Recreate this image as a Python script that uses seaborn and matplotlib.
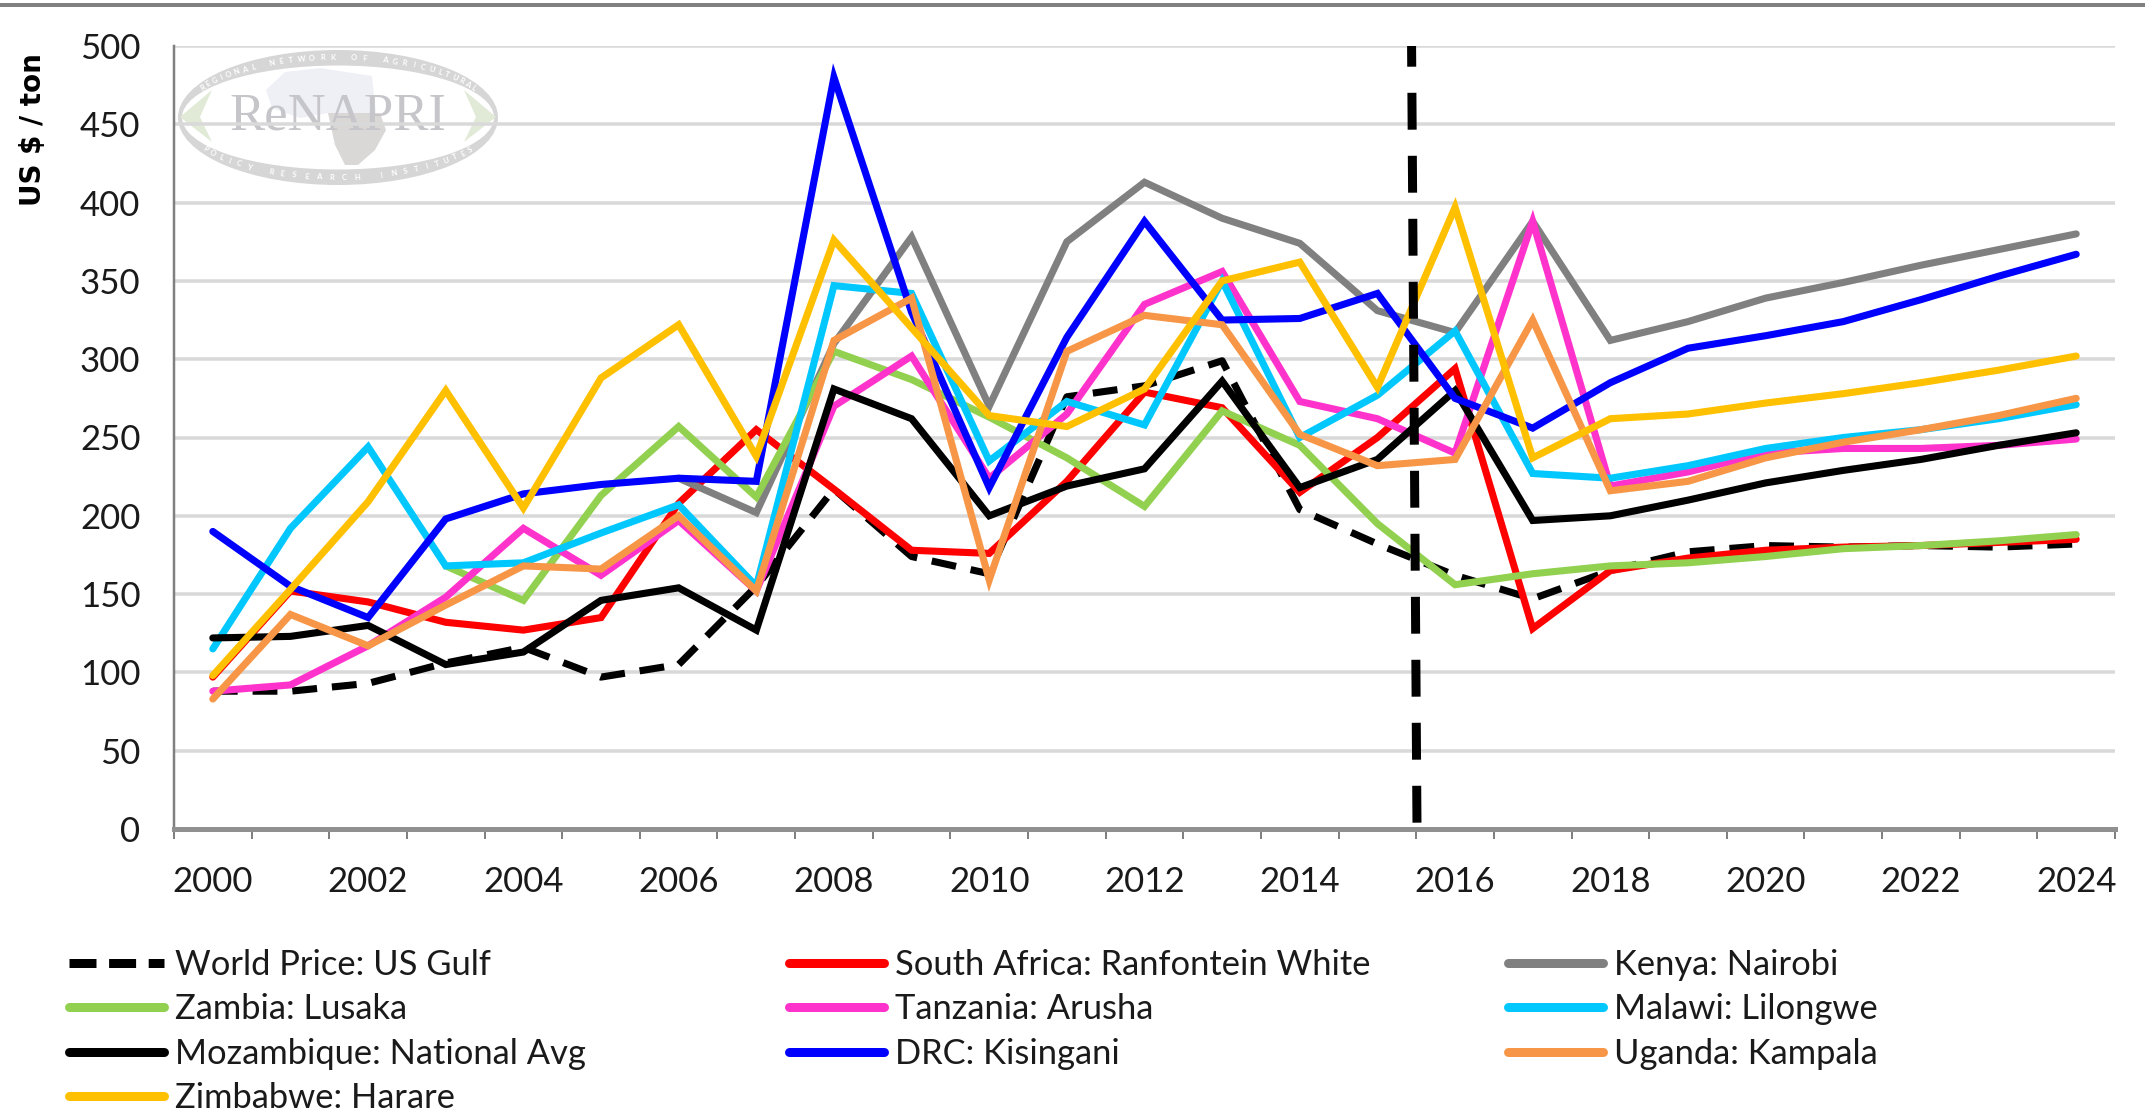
import numpy as np
import pandas as pd
import seaborn as sns
import matplotlib
matplotlib.use("Agg")
import matplotlib.pyplot as plt
from matplotlib.lines import Line2D
from matplotlib.patches import Ellipse, Polygon

years = list(range(2000, 2025))
nan = np.nan
world = [88, 88, 93, 106, 116, 97, 105, 155, 217, 174, 163, 276, 283, 299, 204, 182, 162, 147, 165, 177, 181, 180, 181, 180, 182]
south_africa = [97, 152, 145, 132, 127, 135, 208, 255, 217, 178, 176, 222, 279, 269, 215, 250, 294, 128, 165, 173, 178, 180, 181, 183, 185]
kenya = [nan, nan, nan, nan, nan, nan, 224, 202, 310, 378, 270, 375, 413, 390, 374, 331, 317, 388, 312, 324, 339, 349, 360, 370, 380]
zambia = [nan, nan, nan, 168, 146, 213, 257, 212, 305, 287, 263, 237, 206, 267, 245, 195, 156, 163, 168, 170, 174, 179, 181, 184, 188]
tanzania = [88, 92, 117, 148, 192, 162, 197, 152, 270, 302, 224, 265, 335, 356, 273, 262, 240, 388, 219, 228, 240, 243, 243, 245, 249]
malawi = [115, 192, 244, 168, 170, 189, 207, 155, 347, 342, 235, 273, 258, 350, 250, 277, 318, 227, 224, 232, 243, 250, 255, 262, 271]
mozambique = [122, 123, 130, 105, 113, 146, 154, 127, 281, 262, 200, 219, 230, 286, 218, 236, 280, 197, 200, 210, 221, 229, 236, 245, 253]
drc = [190, 155, 135, 198, 214, 220, 224, 222, 480, 330, 218, 314, 388, 325, 326, 342, 275, 256, 285, 307, 315, 324, 338, 353, 367]
uganda = [83, 137, 117, 143, 168, 166, 200, 152, 312, 339, 159, 305, 328, 322, 252, 232, 236, 325, 216, 222, 237, 247, 255, 264, 275]
zimbabwe = [98, 153, 209, 280, 205, 288, 322, 238, 376, 320, 264, 257, 281, 350, 362, 282, 397, 237, 262, 265, 272, 278, 285, 293, 302]

names = ["World Price: US Gulf", "South Africa: Ranfontein White", "Kenya: Nairobi", "Zambia: Lusaka",
         "Tanzania: Arusha", "Malawi: Lilongwe", "Mozambique: National Avg", "DRC: Kisingani",
         "Uganda: Kampala", "Zimbabwe: Harare"]
series = [world, south_africa, kenya, zambia, tanzania, malawi, mozambique, drc, uganda, zimbabwe]
colors = ["#000000", "#FF0000", "#808080", "#92D050", "#FF33CC", "#00C8FF", "#000000", "#0000FF", "#F79646", "#FFC000"]
WW, HH = 2145, 1113
DPI = 100
px = 72 / DPI
FONT = "Lato"

sns.set_theme(style="white")
plt.rcParams["font.family"] = [FONT, "DejaVu Sans"]
fig = plt.figure(figsize=(WW / DPI, HH / DPI), dpi=DPI)
L, R, T, B = 174, 2115, 46, 829
ax = fig.add_axes([L / WW, 1 - B / HH, (R - L) / WW, (B - T) / HH])
ax.patch.set_visible(False)
ax.set_xlim(-0.5, 24.5)
ax.set_ylim(0, 500)

df = pd.DataFrame({"year": years})
df["i"] = np.arange(len(years))
dash = (0, (3.5, 2.1))
for name, vals, c in zip(names, series, colors):
    df["v"] = vals
    kw = dict(linestyle=dash, dash_capstyle="butt") if name.startswith("World") else dict(solid_capstyle="round", solid_joinstyle="miter")
    sns.lineplot(data=df, x="i", y="v", color=c, lw=7.1 * px, ax=ax, errorbar=None, legend=False, zorder=3, **kw)

# vertical policy line
ax.plot([15.44, 15.51], [500, 0], color="black", lw=9 * px, linestyle=(1.8, (4.1, 2.9)), zorder=4, dash_capstyle="butt")

# grid, spines, ticks
ax.set_yticks(range(0, 501, 50))
ax.grid(axis="y", color="#d9d9d9", lw=3.5 * px, zorder=0)
ax.set_axisbelow(True)
ax.set_xlabel("")
ax.set_ylabel("")
for s in ["top", "right"]:
    ax.spines[s].set_visible(False)
ax.spines["left"].set_color("#808080")
ax.spines["left"].set_linewidth(2.5 * px)
ax.spines["bottom"].set_color("#909090")
ax.spines["bottom"].set_linewidth(5 * px)
ax.tick_params(axis="y", length=12 * px, width=3 * px, color="#808080", labelsize=25, labelcolor="#1a1a1a", pad=15.5)
ax.set_xticks(np.arange(-0.5, 25, 1))
ax.set_xticklabels([])
ax.tick_params(axis="x", which="major", length=10 * px, width=2 * px, color="#808080", bottom=True)
ax.set_xticks(np.arange(0, 25, 2), minor=True)
ax.set_xticklabels([str(y) for y in years[::2]], minor=True)
ax.tick_params(axis="x", which="minor", length=0, labelsize=25, labelcolor="#1a1a1a", pad=27, bottom=True)

fig.text(33 / WW, 1 - 130 / HH, "US $ / ton", rotation=90, fontsize=20, fontweight="bold", family="DejaVu Sans",
         ha="center", va="center", color="black")

# top rule
fig.add_artist(Line2D([0, 1], [1 - 5 / HH, 1 - 5 / HH], color="#808080", lw=4 * px))

# watermark logo, behind the axes
lx, ly = 338, 117.5
to_fig = fig.transFigure
def fx(x): return x / WW
def fy(y): return 1 - y / HH
def poly(points, color):
    fig.add_artist(Polygon([(fx(x), fy(y)) for x, y in points], transform=to_fig, fc=color, ec="none", zorder=-5))

fig.add_artist(Ellipse((fx(lx), fy(ly)), 320 / WW, 135 / HH, transform=to_fig, fc="#d6d6d6", ec="none", zorder=-8))
fig.add_artist(Ellipse((fx(lx), fy(ly)), 312 / WW, 104 / HH, transform=to_fig, fc="white", ec="none", zorder=-7))
poly([(212, 90), (180, 117), (212, 142), (200, 117)], "#e0ead6")
poly([(464, 90), (496, 117), (464, 142), (476, 117)], "#e0ead6")
poly([(266, 90), (285, 72), (320, 68), (372, 76), (376, 113), (328, 113), (300, 118), (272, 108)], "#eef0f6")
poly([(328, 113), (380, 113), (386, 130), (375, 150), (358, 165), (345, 165), (335, 145)], "#dad7d7")
fig.text(fx(lx), fy(117), "ReNAPRI", family="Liberation Serif", fontsize=38, color="#c6c6ca", ha="center", va="center", zorder=-4)
for txt, a0, a1, r in [("REGIONAL NETWORK OF AGRICULTURAL", 150, 30, 1), ("POLICY RESEARCH INSTITUTES", 212, 328, -1)]:
    for ch, a in zip(txt, np.linspace(a0, a1, len(txt))):
        t = np.radians(a)
        x, y = lx + 156 * np.cos(t), ly - 60 * np.sin(t)
        tang = np.degrees(np.arctan2(60 * np.cos(t), -156 * np.sin(t)))
        if r == 1:
            tang -= 180
        fig.text(fx(x), fy(y), ch, fontsize=5.5, color="white", fontweight="bold", ha="center", va="center",
                 rotation=tang, rotation_mode="anchor", zorder=-4)

# legend: three independently placed columns
def handle(i):
    if names[i].startswith("World"):
        return Line2D([], [], color=colors[i], lw=9 * px, linestyle=(0, (3.0, 1.4)), dash_capstyle="butt")
    return Line2D([], [], color=colors[i], lw=9 * px, solid_capstyle="round")

columns = [([0, 3, 6, 9], 68.5), ([1, 4, 7], 788.5), ([2, 5, 8], 1507.5)]
for idx, x0 in columns:
    leg = fig.legend([handle(i) for i in idx], [names[i] for i in idx], loc="upper left",
                     bbox_to_anchor=(x0 / WW, 1 - 949 / HH), bbox_transform=fig.transFigure, frameon=False,
                     borderpad=0, borderaxespad=0, fontsize=24.8, handlelength=2.78, handletextpad=0.3,
                     labelspacing=0.36, labelcolor="#1a1a1a")

fig.savefig("out.png", dpi=DPI, facecolor="white")
